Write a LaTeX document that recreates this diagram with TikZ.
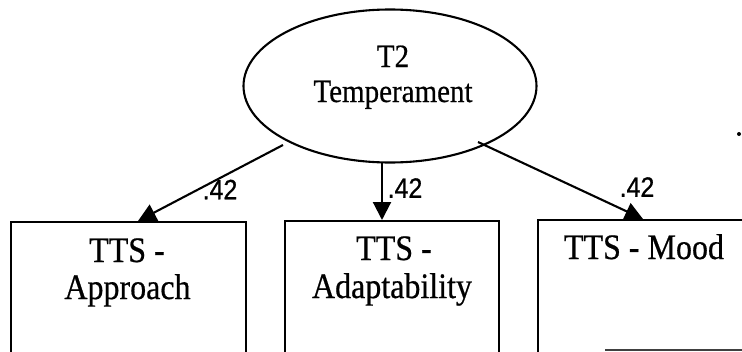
\documentclass[tikz,border=0pt]{standalone}
\usepackage{fontspec}
\setmainfont{Liberation Serif}
\newfontface\scanfont{Liberation Serif}[FakeBold=0.6]
\newfontface\labfont{Liberation Sans}[FakeBold=0.8]
\usetikzlibrary{shapes.geometric,arrows.meta}
\newcommand{\tallt}[1]{\scalebox{1}[1.12]{#1}}
\begin{document}
\begin{tikzpicture}[x=1pt,y=-1pt,
  lw/.style={line width=2.1pt},
  latent/.style={ellipse,draw,lw,inner sep=0pt,minimum width=293pt,minimum height=153pt},
  obsbox/.style={rectangle,draw,lw,inner sep=0pt,anchor=north west,minimum height=150pt},
  arr/.style={lw,-{Triangle[length=18pt,width=18pt]}},
  ltxt/.style={anchor=base,inner sep=0pt,font=\scanfont\fontsize{29}{34}\selectfont},
  btxt/.style={anchor=base,inner sep=0pt,font=\scanfont\fontsize{32}{38}\selectfont},
  coef/.style={inner sep=0pt,font=\labfont\fontsize{25}{28}\selectfont}]
\useasboundingbox (0,0) rectangle (742,351);
\clip (0,0) rectangle (742,351);
\fill[white] (0,0) rectangle (742,351);
% latent variable
\node[latent] (ell) at (390,86) {};
\node[ltxt] (t2) at (393,67) {\tallt{T2}};
\node[ltxt] (temp) at (393,102) {\tallt{Temperament}};
% observed boxes
\node[obsbox,minimum width=235pt] (b1) at (10,221) {};
\node[obsbox,minimum width=214pt] (b2) at (284,220) {};
\node[obsbox,minimum width=214pt] (b3) at (537,219) {};
\node[btxt] (b1a) at (127,262) {\tallt{TTS -}};
\node[btxt] (b1b) at (127.5,299) {\tallt{Approach}};
\node[btxt] (b2a) at (394,260) {\tallt{TTS -}};
\node[btxt] (b2b) at (392,298) {\tallt{Adaptability}};
\node[btxt] (b3a) at (644,259) {\tallt{TTS - Mood}};
% connectors
\coordinate (s1) at (283,145);
\coordinate (s2) at (382,162);
\coordinate (s3) at (478,142);
\draw[arr] (s1) -- (b1.north -| 138,0);
\draw[arr] (s2) -- (b2.north -| 382,0);
\draw[arr] (s3) -- (b3.north -| 643,0);
\node[coef] (c1) at (220,189.5) {\tallt{.42}};
\node[coef] (c2) at (405,188) {\tallt{.42}};
\node[coef] (c3) at (637,187) {\tallt{.42}};
% scan marks
\draw[line width=1.2pt,black!75] (605,350) -- (742,350);
\fill (739,134) circle (2pt);
\end{tikzpicture}
\end{document}
